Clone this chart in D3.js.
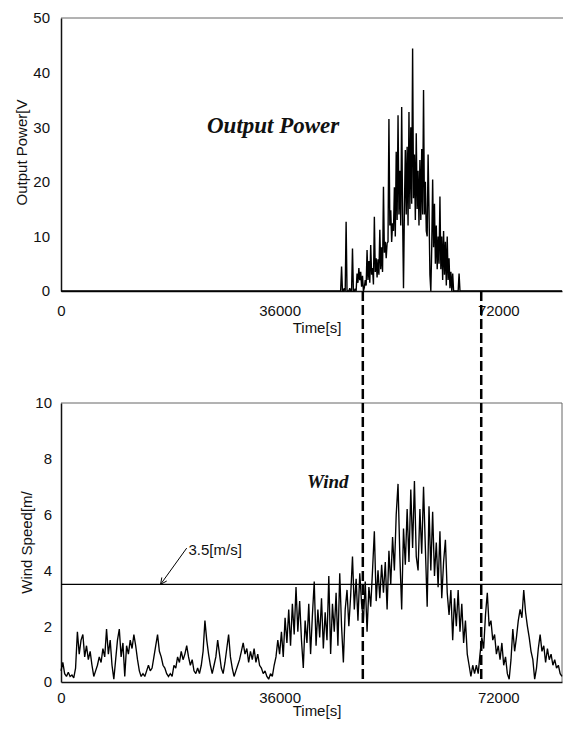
<!DOCTYPE html>
<html><head><meta charset="utf-8">
<script src="https://cdn.jsdelivr.net/npm/d3@7"></script>
<style>
html,body{margin:0;padding:0;background:#fff;}
svg{display:block;}
.lbl{font-family:"Liberation Sans",Arial,sans-serif;font-size:15px;fill:#111;}
.ttl{font-family:"Liberation Serif","Times New Roman",serif;font-style:italic;font-weight:bold;fill:#111;}
</style></head><body>
<svg id="chart" width="563" height="734"></svg>
<script>
// Wind speed [m/s], one sample every 300 s over the day
const timeStep = 300;
const windSpeed = [
  0.4,0.7,0.3,0.2,0.35,0.2,0.25,0.15,0.5,1.8,
  1.0,1.5,1.7,0.9,1.3,0.8,1.1,0.6,0.2,0.4,
  0.6,0.9,0.7,1.2,0.9,1.9,1.0,1.5,0.6,0.1,
  0.8,1.5,1.9,0.9,1.4,0.2,1.3,1.0,1.5,1.2,
  1.7,1.3,0.8,0.4,0.2,0.3,0.2,0.4,0.6,0.4,
  0.5,0.9,1.3,1.7,1.1,0.9,0.6,0.5,0.3,0.2,
  0.3,0.2,0.6,0.5,0.9,0.7,1.1,0.8,1.0,1.3,
  0.9,0.6,0.8,0.4,0.3,0.5,0.3,0.6,1.1,2.2,
  1.5,1.0,0.6,0.3,0.6,0.9,1.5,1.0,0.5,0.3,
  0.7,1.2,1.7,0.9,0.5,0.2,0.4,0.6,0.8,1.1,
  1.4,1.0,1.2,0.7,1.1,0.8,1.2,0.7,1.0,0.6,
  0.5,0.3,0.4,0.2,0.1,0.3,0.2,0.6,0.9,1.5,
  1.0,1.8,0.9,2.3,1.4,2.6,1.3,2.8,1.7,3.4,
  1.8,2.9,1.5,0.5,2.2,1.4,2.8,1.0,2.4,3.6,
  1.3,2.6,1.6,3.0,1.2,2.5,1.5,3.8,1.0,2.8,
  1.8,3.2,1.3,3.9,2.0,0.7,2.6,3.3,2.0,3.1,
  4.5,2.6,3.7,2.2,3.9,2.8,2.2,3.6,1.8,3.4,
  2.7,4.0,5.4,2.9,4.0,3.0,4.2,3.2,4.3,2.6,
  4.7,3.5,5.2,4.0,6.0,7.1,4.5,2.6,5.5,4.2,
  6.2,4.3,6.9,4.8,7.2,4.5,4.0,6.2,4.6,7.0,
  4.8,2.7,6.3,4.0,6.1,3.8,5.0,3.4,5.4,3.0,
  4.3,5.1,3.2,2.4,3.3,1.5,3.0,2.0,3.3,1.8,
  2.8,1.4,2.2,1.0,0.6,0.2,0.6,0.3,0.6,0.3,
  1.0,1.6,1.2,2.4,3.2,2.0,2.2,1.5,1.7,1.0,
  1.3,0.8,1.4,0.6,0.9,0.3,0.1,0.8,1.9,1.1,
  1.6,2.2,2.6,2.3,3.3,2.5,2.0,1.6,1.1,0.8,
  0.1,0.5,1.2,1.7,1.1,1.3,0.7,1.2,0.8,1.0,
  0.6,0.8,0.5,0.6,0.3,0.2
];

// Output power [W] while the turbine is producing, every 150 s from powerStart
const powerStart = 45900;
const powerStep = 150;
const outputPower = [
  0,0,4.5,0,0,0.5,0,12.7,0,0,
  0,0.5,0,0,7.8,0,0,0.4,0,3.2,
  1.5,4.2,2.0,3.5,0.8,2.8,0,0.6,2.0,1.0,
  7.5,2.0,5.5,1.5,8.4,3.0,4.2,1.2,13.6,3.5,
  6.0,2.5,5.8,3.0,11.2,4.0,8.0,3.5,19.1,7.0,
  9.0,6.0,8.8,9.0,31.5,12.0,14.8,9.0,12.4,11.0,
  19.0,10.0,25.5,13.0,32.2,14.0,22.0,12.0,33.7,14.0,
  0.5,15.0,25.8,14.0,26.4,12.0,32.8,15.0,30.0,16.0,
  44.4,17.0,25.0,13.0,28.9,15.0,22.0,12.0,24.0,13.0,
  26.0,14.0,36.8,14.0,20.0,11.0,10.0,25.0,15.0,3.0,
  0,8.0,20.4,8.0,16.0,5.0,12.0,4.0,10.0,5.0,
  17.3,4.0,10.0,2.0,11.0,3.0,9.0,1.0,10.0,2.0,
  6.0,0.5,3.5,0,3.2,0,0,0,0,0,
  0,3.2,0,0,0,0,0,0,0,0,
  0,0,0,0,0
];

const timeMax = 82500;
const timeTicks = [0, 36000, 72000];
const powerTicks = [0, 10, 20, 30, 40, 50];
const windTicks = [0, 2, 4, 6, 8, 10];
const cutInSpeed = 3.5;                 // horizontal reference line
const markerTimes = [49700, 69200];     // start / end of power production

const svg = d3.select("#chart");

const x = d3.scaleLinear().domain([0, timeMax]).range([61, 562]);
const yP = d3.scaleLinear().domain([0, 50]).range([291, 18]);
const yW = d3.scaleLinear().domain([0, 10]).range([682, 403]);

// ---------- frames ----------
svg.append("line").attr("x1", x(0)).attr("x2", 563).attr("y1", yP(50)).attr("y2", yP(50))
  .attr("stroke", "#666").attr("stroke-width", 1);
svg.append("path")
  .attr("d", `M${x(0)},${yW(10)}H${x(timeMax)}V${yW(0)}`)
  .attr("fill", "none").attr("stroke", "#666").attr("stroke-width", 1);

// ---------- axes ----------
function styleAxis(g) {
  g.select(".domain").attr("stroke", "#111").attr("stroke-width", 1.5);
  g.selectAll(".tick line").remove();
  g.selectAll(".tick text").attr("class", "lbl").attr("font-size", null).attr("font-family", null).attr("fill", null);
}

svg.append("g").attr("transform", `translate(${x(0)},0)`)
  .call(d3.axisLeft(yP).tickValues(powerTicks).tickSize(0).tickPadding(11).tickSizeOuter(0))
  .call(styleAxis);
svg.append("g").attr("transform", `translate(0,${yP(0)})`)
  .call(d3.axisBottom(x).tickValues(timeTicks).tickFormat(d3.format("d")).tickSize(0).tickPadding(14).tickSizeOuter(0))
  .call(styleAxis);

svg.append("g").attr("transform", `translate(${x(0)},0)`)
  .call(d3.axisLeft(yW).tickValues(windTicks).tickSize(0).tickPadding(9).tickSizeOuter(0))
  .call(styleAxis);
svg.append("g").attr("transform", `translate(0,${yW(0)})`)
  .call(d3.axisBottom(x).tickValues(timeTicks).tickFormat(d3.format("d")).tickSize(0).tickPadding(10).tickSizeOuter(0))
  .call(styleAxis);

// axis titles
svg.append("text").attr("class", "lbl").attr("text-anchor", "middle")
  .attr("transform", `translate(22,${(yP(0) + yP(50)) / 2 - 2}) rotate(-90)`).attr("dy", "0.35em")
  .text("Output Power[V");
svg.append("text").attr("class", "lbl").attr("text-anchor", "middle")
  .attr("transform", `translate(27,${(yW(0) + yW(10)) / 2}) rotate(-90)`).attr("dy", "0.35em")
  .text("Wind Speed[m/");
svg.append("text").attr("class", "lbl").attr("text-anchor", "middle")
  .attr("x", 317).attr("y", yP(0) + 42).text("Time[s]");
svg.append("text").attr("class", "lbl").attr("text-anchor", "middle")
  .attr("x", 317).attr("y", yW(0) + 34).text("Time[s]");

// ---------- series ----------
const powerPoints = [[0, 0]]
  .concat(outputPower.map((v, k) => [powerStart + k * powerStep, v]))
  .concat([[timeMax, 0]]);

svg.append("path").datum(powerPoints)
  .attr("fill", "none").attr("stroke", "#000").attr("stroke-width", 1.4)
  .attr("stroke-linejoin", "miter").attr("stroke-miterlimit", 2)
  .attr("d", d3.line().x(d => x(d[0])).y(d => yP(d[1])));

svg.append("path").datum(windSpeed)
  .attr("fill", "none").attr("stroke", "#000").attr("stroke-width", 1.35)
  .attr("stroke-linejoin", "miter").attr("stroke-miterlimit", 2)
  .attr("d", d3.line().x((d, i) => x(i * timeStep)).y(d => yW(d)));

// cut-in wind speed line
svg.append("line").attr("x1", x(0)).attr("x2", x(timeMax))
  .attr("y1", yW(cutInSpeed)).attr("y2", yW(cutInSpeed))
  .attr("stroke", "#000").attr("stroke-width", 1.2);

// annotation arrow and label
const tip = [x(16400), yW(cutInSpeed)];
const tail = [x(20700), yW(4.8)];
const ang = Math.atan2(tail[1] - tip[1], tail[0] - tip[0]);
const headLen = 7, spread = 0.45;
svg.append("path")
  .attr("d", `M${tail[0]},${tail[1]}L${tip[0]},${tip[1]}` +
    `M${tip[0] + headLen * Math.cos(ang - spread)},${tip[1] + headLen * Math.sin(ang - spread)}` +
    `L${tip[0]},${tip[1]}L${tip[0] + headLen * Math.cos(ang + spread)},${tip[1] + headLen * Math.sin(ang + spread)}`)
  .attr("fill", "none").attr("stroke", "#000").attr("stroke-width", 1);
svg.append("text").attr("class", "lbl").attr("x", x(21000)).attr("y", yW(4.55))
  .text("3.5[m/s]");

// dashed markers spanning both panels
markerTimes.forEach(t => {
  svg.append("line").attr("x1", x(t)).attr("x2", x(t))
    .attr("y1", yP(0)).attr("y2", yW(0))
    .attr("stroke", "#000").attr("stroke-width", 2.5).attr("stroke-dasharray", "10,4");
});

// panel titles
svg.append("text").attr("class", "ttl").attr("font-size", 23)
  .attr("x", 207).attr("y", 133).text("Output Power");
svg.append("text").attr("class", "ttl").attr("font-size", 19)
  .attr("x", 307).attr("y", 488).text("Wind");
</script>
</body></html>
